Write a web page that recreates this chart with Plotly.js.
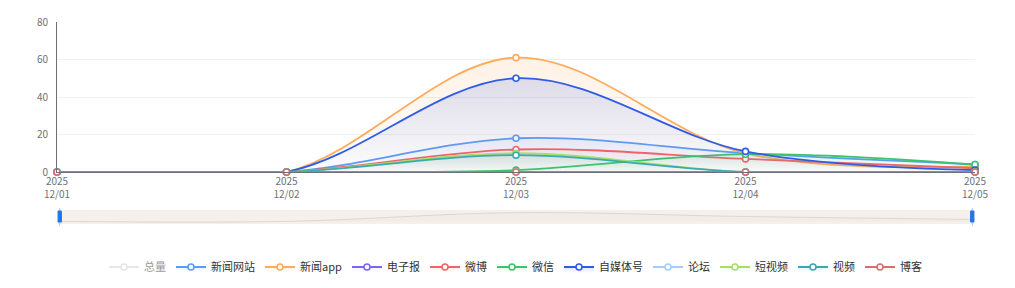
<!DOCTYPE html>
<html>
<head>
<meta charset="utf-8">
<script src="https://cdn.plot.ly/plotly-3.0.1.min.js"></script>
<style>html,body{margin:0;padding:0;background:#fff;}#chart{width:1015px;height:288px;}</style>
</head>
<body>
<div id="chart"></div>
<script>
// ---- data ----
const dates = ['2025-12-01', '2025-12-02', '2025-12-03', '2025-12-04', '2025-12-05'];
const seriesNames = ['总量', '新闻网站', '新闻app', '电子报', '微博', '微信', '自媒体号', '论坛', '短视频', '视频', '博客'];
const total      = [null, null, null, null, null];
const newsSite   = [0, 0, 18, 10, 4];
const newsApp    = [0, 0, 61, 10, 3];
const ePaper     = [0, 0, 0, 0, 0];
const weibo      = [0, 0, 12, 7, 2];
const wechat     = [0, 0, 1, 9.5, 4];
const selfMedia  = [0, 0, 50, 11, 1];
const forum      = [0, 0, 0, 0, 0];
const shortVideo = [0, 0, 10, 0, 0];
const video      = [0, 0, 9, 0, 0];
const blog       = [0, 0, 0, 0, 0];

// ---- styles ----
const colors = ['#cccccc', '#5b9cf6', '#fdab5c', '#7b66ee', '#f56464', '#3cc46a', '#2f5ce6', '#a3cff8', '#a6de6a', '#3aa9b2', '#d66f6f'];
const fillTop = [0, 0.10, 0.16, 0.08, 0.08, 0.12, 0.16, 0.08, 0.10, 0.12, 0.06];
const values = [total, newsSite, newsApp, ePaper, weibo, wechat, selfMedia, forum, shortVideo, video, blog];

function hexToRgba(hex, a) {
  const n = parseInt(hex.slice(1), 16);
  return 'rgba(' + ((n >> 16) & 255) + ',' + ((n >> 8) & 255) + ',' + (n & 255) + ',' + a + ')';
}

const traces = seriesNames.map((name, i) => {
  const t = {
    type: 'scatter', mode: 'lines+markers', name: name,
    x: dates, y: values[i],
    line: {color: colors[i], width: 1.8, shape: 'spline', smoothing: 1},
    marker: {symbol: 'circle', size: 6, color: '#ffffff', line: {color: colors[i], width: 1.6}},
    cliponaxis: false,
    fill: 'tozeroy',
    fillcolor: hexToRgba(colors[i], 0.03),
    fillgradient: {type: 'vertical', colorscale: [[0, hexToRgba(colors[i], 0.0)], [1, hexToRgba(colors[i], fillTop[i])]]},
    hoverinfo: 'x+y+name'
  };
  if (i === 0) t.visible = 'legendonly';
  return t;
});

// slider data shadow (first visible series)
const shadowMax = Math.max(...newsSite), shadowMin = Math.min(...newsSite);
const pad = (shadowMax - shadowMin) * 0.3;
traces.push({
  type: 'scatter', mode: 'lines', x: dates, y: newsSite, xaxis: 'x2', yaxis: 'y2',
  showlegend: false, hoverinfo: 'skip',
  line: {color: 'rgba(200,195,190,0.55)', width: 1, shape: 'spline', smoothing: 1},
  fill: 'tozeroy', fillcolor: 'rgba(210,205,200,0.10)'
});

const H = 288, mt = 22, mb = 0;
const ph = H - mt - mb;
const py = y => (H - mb - y) / ph;

const layout = {
  width: 1015, height: 288,
  margin: {l: 57, r: 40, t: mt, b: mb, autoexpand: false},
  paper_bgcolor: '#ffffff', plot_bgcolor: 'rgba(0,0,0,0)',
  font: {family: '"Noto Sans CJK SC", "Noto Sans", sans-serif', size: 10, color: '#6e7079'},
  showlegend: true,
  legend: {
    orientation: 'h', x: 0.5, xanchor: 'center',
    y: py(267), yanchor: 'middle',
    font: {size: 11, color: '#333333'}, itemwidth: 30, traceorder: 'normal',
    itemclick: false, itemdoubleclick: false, bgcolor: 'rgba(0,0,0,0)'
  },
  xaxis: {
    type: 'date', range: [dates[0], dates[dates.length - 1]],
    domain: [0, 1], anchor: 'y',
    tickformat: '%Y<br>%m/%d', dtick: 86400000, tick0: dates[0],
    showgrid: false, showline: true, linecolor: '#6e7079', linewidth: 1,
    ticks: '', tickfont: {size: 10, color: '#6e7079'}, zeroline: false,
    fixedrange: true
  },
  yaxis: {
    range: [0, 80], dtick: 20, domain: [py(172), 1],
    showgrid: true, gridcolor: '#eef0f3', gridwidth: 1,
    showline: true, linecolor: '#6e7079', linewidth: 1,
    zeroline: false, ticks: '', ticklabelstandoff: 6,
    tickfont: {size: 10, color: '#6e7079'}, fixedrange: true
  },
  xaxis2: {
    type: 'date', range: [dates[0], dates[dates.length - 1]], anchor: 'y2',
    domain: [0, 1], visible: false, fixedrange: true
  },
  yaxis2: {
    range: [shadowMin - pad, shadowMax + pad], domain: [py(224), py(210)],
    visible: false, fixedrange: true, anchor: 'x2'
  },
  shapes: [
    {type: 'rect', xref: 'x2 domain', yref: 'y2 domain', x0: 0, x1: 1, y0: 0, y1: 1,
     fillcolor: '#f5f0eb', line: {width: 0}, layer: 'below'},
    {type: 'line', xref: 'x2 domain', yref: 'paper', x0: 0.003, x1: 0.003, y0: py(226), y1: py(208),
     line: {color: '#a9c4ea', width: 1}},
    {type: 'line', xref: 'x2 domain', yref: 'paper', x0: 0.997, x1: 0.997, y0: py(226), y1: py(208),
     line: {color: '#a9c4ea', width: 1}},
    {type: 'rect', xref: 'x2 domain', yref: 'paper', x0: 0.0012, x1: 0.0048, y0: py(222), y1: py(211),
     fillcolor: '#1f77e8', line: {color: '#1f77e8', width: 1}},
    {type: 'rect', xref: 'x2 domain', yref: 'paper', x0: 0.9952, x1: 0.9988, y0: py(222), y1: py(211),
     fillcolor: '#1f77e8', line: {color: '#1f77e8', width: 1}}
  ]
};

Plotly.newPlot('chart', traces, layout, {displayModeBar: false, staticPlot: false, responsive: false});
</script>
</body>
</html>
